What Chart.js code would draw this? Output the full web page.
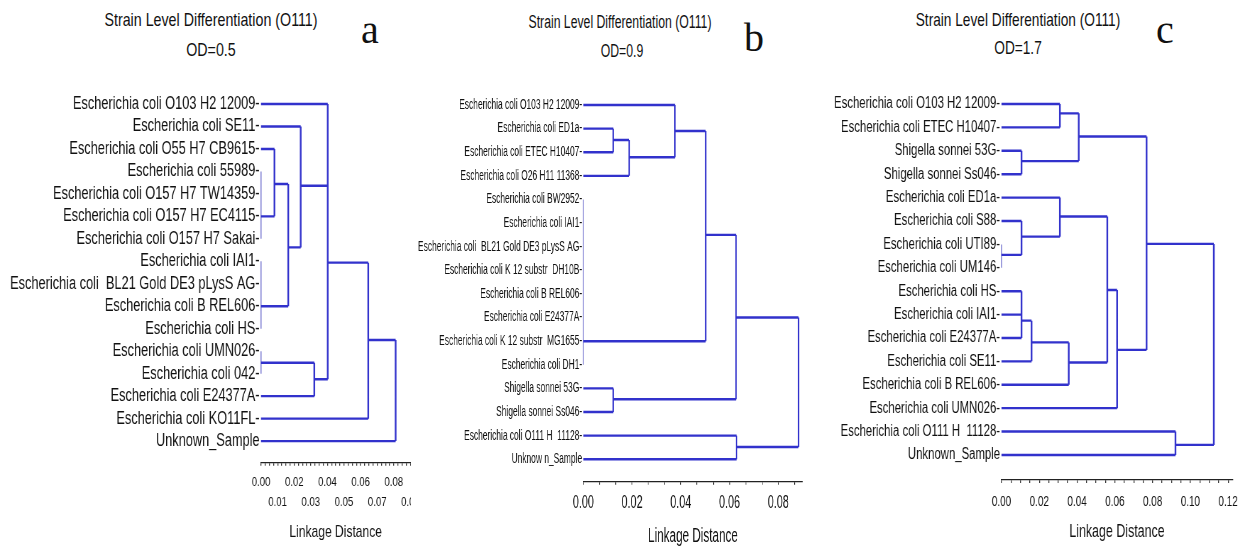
<!DOCTYPE html>
<html><head><meta charset="utf-8">
<script src="https://cdn.jsdelivr.net/npm/chart.js@4.4.0/dist/chart.umd.min.js"></script>
<style>
html,body{margin:0;padding:0;background:#fff;}
body{width:1250px;height:546px;position:relative;overflow:hidden;font-family:'Liberation Sans',Arial,sans-serif;color:#111;}
.wrap{position:absolute;top:0;height:546px;overflow:hidden;}
.wrap canvas{position:absolute;left:0;top:0;}
.t{position:absolute;white-space:nowrap;line-height:1;}
.L{position:absolute;font-family:'Liberation Serif','DejaVu Serif',serif;transform:translate(-50%,-50%);line-height:1;color:#111;}
</style></head><body>

<div class="t" style="left:211px;top:19px;font-size:19px;transform:translate(-50%,-50%) scaleX(0.75);">Strain Level Differentiation (O111)</div>
<div class="t" style="left:211px;top:49px;font-size:19px;transform:translate(-50%,-50%) scaleX(0.75);">OD=0.5</div>
<div class="L" style="left:370px;top:30px;font-size:40px;">a</div>

<div class="t" style="left:620px;top:22px;font-size:18px;transform:translate(-50%,-50%) scaleX(0.68);">Strain Level Differentiation (O111)</div>
<div class="t" style="left:622px;top:51px;font-size:18px;transform:translate(-50%,-50%) scaleX(0.68);">OD=0.9</div>
<div class="L" style="left:754px;top:38px;font-size:40px;">b</div>

<div class="t" style="left:1018px;top:19px;font-size:19px;transform:translate(-50%,-50%) scaleX(0.72);">Strain Level Differentiation (O111)</div>
<div class="t" style="left:1018px;top:47px;font-size:19px;transform:translate(-50%,-50%) scaleX(0.72);">OD=1.7</div>
<div class="L" style="left:1165px;top:30px;font-size:40px;">c</div>

<div class="wrap" style="left:0px;width:411px;"><canvas id="ca"></canvas></div>
<div class="wrap" style="left:410px;width:410px;"><canvas id="cb"></canvas></div>
<div class="wrap" style="left:790px;width:460px;"><canvas id="cc"></canvas></div>

<script>
// ---------- Panel a (OD=0.5) ----------
const aLeaves = [
  "Escherichia coli O103 H2 12009-",
  "Escherichia coli SE11-",
  "Escherichia coli O55 H7 CB9615-",
  "Escherichia coli 55989-",
  "Escherichia coli O157 H7 TW14359-",
  "Escherichia coli O157 H7 EC4115-",
  "Escherichia coli O157 H7 Sakai-",
  "Escherichia coli IAI1-",
  "Escherichia coli  BL21 Gold DE3 pLysS AG-",
  "Escherichia coli B REL606-",
  "Escherichia coli HS-",
  "Escherichia coli UMN026-",
  "Escherichia coli 042-",
  "Escherichia coli E24377A-",
  "Escherichia coli KO11FL-",
  "Unknown_Sample"
];
// cluster merge distances, the leaf-row position where each cluster's stem leaves, and members
const aHeights  = [0,      0.0081, 0,          0.0164,     0.0239,     0,       0.0321,     0.0402,          0.0646,     0.0811];
const aAttach   = [5,      3.56,   9,          6.38,       3.64,       11.51,   12.25,      7.06,            10.5,       10.5];
const aChildren = [[3,4,5,6], [2,"n0"], [7,8,9,10], ["n1","n2"], [1,"n3"], [11,12], ["n5",13], [0,"n4","n6"], ["n7",14], ["n8",15]];
const aTickLabels = ["0.00","0.01","0.02","0.03","0.04","0.05","0.06","0.07","0.08","0.09"];

// ---------- Panel b (OD=0.9) ----------
const bLeaves = [
  "Escherichia coli O103 H2 12009-",
  "Escherichia coli ED1a-",
  "Escherichia coli ETEC H10407-",
  "Escherichia coli O26 H11 11368-",
  "Escherichia coli BW2952-",
  "Escherichia coli IAI1-",
  "Escherichia coli  BL21 Gold DE3 pLysS AG-",
  "Escherichia coli K 12 substr  DH10B-",
  "Escherichia coli B REL606-",
  "Escherichia coli E24377A-",
  "Escherichia coli K 12 substr  MG1655-",
  "Escherichia coli DH1-",
  "Shigella sonnei 53G-",
  "Shigella sonnei Ss046-",
  "Escherichia coli O111 H  11128-",
  "Unknow n_Sample"
];
const bHeights  = [0.0123, 0.0188,    0.0376,    0,                      0.0502,      0.0123,  0.0627,      0.0629,  0.0883];
const bAttach   = [1.48,   2.21,      1.10,      10,                     5.50,        12.46,   9.0,         14.48,   9.0];
const bChildren = [[1,2],  ["n0",3],  [0,"n1"],  [4,5,6,7,8,9,10,11],    ["n2","n3"], [12,13], ["n4","n5"], [14,15], ["n6","n7"]];
const bTickLabels = ["0.00","0.02","0.04","0.06","0.08"];

// ---------- Panel c (OD=1.7) ----------
const cLeaves = [
  "Escherichia coli O103 H2 12009-",
  "Escherichia coli ETEC H10407-",
  "Shigella sonnei 53G-",
  "Shigella sonnei Ss046-",
  "Escherichia coli ED1a-",
  "Escherichia coli S88-",
  "Escherichia coli UTI89-",
  "Escherichia coli UM146-",
  "Escherichia coli HS-",
  "Escherichia coli IAI1-",
  "Escherichia coli E24377A-",
  "Escherichia coli SE11-",
  "Escherichia coli B REL606-",
  "Escherichia coli UMN026-",
  "Escherichia coli O111 H  11128-",
  "Unknown_Sample"
];
const cHeights  = [0.0309, 0.0106, 0.0409,    0,     0.0106,  0.0309,  0.0106,  0.0159,   0.0356,   0.0560,      0.0612,   0.0768,       0.0921,  0.1124];
const cAttach   = [0.40,   2.44,   1.39,      6.45,  5.67,    4.81,    9.26,    10.19,    11.05,    7.95,        10.51,    5.98,         14.57,   10.0];
const cChildren = [[0,1],  [2,3],  ["n0","n1"],[6,7], [5,"n3"],[4,"n4"],[8,9,10],["n6",11],["n7",12],["n5","n8"], ["n9",13],["n2","n10"], [14,15], ["n11","n12"]];
const cTickLabels = ["0.00","0.02","0.04","0.06","0.08","0.10","0.12"];

// ---------- drawing helpers ----------
const FONT = "'Liberation Sans', Arial, sans-serif";
const LINE = "#3232cc";
const TIE  = "#8e8ed8";
const H = 546;

function buildSegments(heights, attach, children) {
  const main = [], tie = [];
  const pos = c => typeof c === "number" ? {h: 0, y: c} : {h: heights[+c.slice(1)], y: attach[+c.slice(1)]};
  heights.forEach((h, k) => {
    const ys = children[k].map(c => pos(c).y);
    const y0 = Math.min(...ys), y1 = Math.max(...ys);
    (h === 0 ? tie : main).push({x: h, y: y0}, {x: h, y: y1}, {x: null, y: null});
    children[k].forEach(c => {
      const p = pos(c);
      if (h > p.h) main.push({x: p.h, y: p.y}, {x: h, y: p.y}, {x: null, y: null});
    });
  });
  return {main, tie};
}

function tickValues(labels, sub, max) {
  const step = (parseFloat(labels[1]) - parseFloat(labels[0])) / sub;
  const vals = [];
  for (let i = 0; i * step <= max + 1e-9; i++) vals.push(+(i * step).toFixed(6));
  return vals;
}

// g: page geometry (px) + fonts; s: horizontal compression of the panel's drawing
function makePanel(id, g, leaves, heights, attach, children, tickLabels, sub, stagger) {
  const cv = document.getElementById(id);
  const Wi = Math.round(g.w / g.s);
  const s = g.w / Wi;
  cv.width = Wi; cv.height = H;
  cv.style.width = g.w + "px"; cv.style.height = H + "px";
  const seg = buildSegments(heights, attach, children);
  const vals = tickValues(tickLabels, sub, g.max);
  const majors = tickLabels.map(parseFloat);
  new Chart(cv, {
    type: "scatter",
    data: {
      datasets: [
        {data: seg.main, showLine: true, borderColor: LINE, borderWidth: 2.4, pointRadius: 0, pointHoverRadius: 0, spanGaps: false, clip: false},
        {data: seg.tie,  showLine: true, borderColor: TIE,  borderWidth: 1.7, pointRadius: 0, pointHoverRadius: 0, spanGaps: false, clip: false}
      ]
    },
    options: {
      responsive: false, animation: false, devicePixelRatio: 1, events: [],
      layout: {padding: {left: 0, top: g.top, right: Wi - (g.right - g.x) / s, bottom: 0}},
      plugins: {legend: {display: false}, tooltip: {enabled: false}, title: {display: false}},
      scales: {
        x: {
          type: "linear", min: 0, max: g.max,
          afterBuildTicks: sc => { sc.ticks = vals.map(v => ({value: v})); },
          afterFit: sc => { sc.height = H - g.bottom; sc.paddingLeft = 0; sc.paddingRight = 0; },
          border: {display: true, color: "#222", width: 1.2},
          grid: {display: true, drawOnChartArea: false, drawTicks: true, tickLength: 3, color: "#333", lineWidth: 1.3},
          ticks: {
            autoSkip: false, maxRotation: 0, minRotation: 0, padding: g.tickPad, color: "#111",
            font: {family: FONT, size: g.tickSize, lineHeight: g.tickLH},
            callback: v => {
              const j = majors.findIndex(m => Math.abs(m - v) < 1e-6);
              if (j < 0) return "";
              if (!stagger) return tickLabels[j];
              return j % 2 === 0 ? [tickLabels[j], ""] : ["", tickLabels[j]];
            }
          },
          title: {display: true, text: "Linkage Distance", color: "#111", font: {family: FONT, size: g.titleSize, lineHeight: 1}, padding: {top: 0, bottom: g.titlePad}}
        },
        y: {
          type: "linear", reverse: true, min: -1, max: g.ymax,
          afterBuildTicks: sc => { sc.ticks = leaves.map((_, i) => ({value: i})); },
          afterFit: sc => { sc.width = (g.left - g.x) / s; sc.paddingTop = 0; sc.paddingBottom = 0; },
          border: {display: false},
          grid: {display: false, drawTicks: false},
          ticks: {
            autoSkip: false, padding: 2, color: "#111",
            font: {family: FONT, size: g.labelSize},
            callback: v => leaves[v]
          }
        }
      }
    }
  });
}

makePanel("ca", {x: 0,   w: 440, s: 0.71, left: 261,    right: 410.4,  top: 81.5, bottom: 462.7, max: 0.09,   ymax: 15.96,
                 labelSize: 18, tickSize: 13.5, tickLH: 20/13.5, tickPad: 7, titleSize: 17, titlePad: 5.5},
          aLeaves, aHeights, aAttach, aChildren, aTickLabels, 4, true);
makePanel("cb", {x: 410, w: 410, s: 0.60, left: 583.3,  right: 802.6,  top: 81.4, bottom: 481.7, max: 0.09,   ymax: 15.95,
                 labelSize: 14, tickSize: 18, tickLH: 1.2, tickPad: 7.8, titleSize: 19.5, titlePad: 0},
          bLeaves, bHeights, bAttach, bChildren, bTickLabels, 3, false);
makePanel("cc", {x: 790, w: 460, s: 0.71, left: 1001.5, right: 1232.5, top: 80.6, bottom: 480,   max: 0.1223, ymax: 16.07,
                 labelSize: 16, tickSize: 14, tickLH: 1.2, tickPad: 10.3, titleSize: 17.5, titlePad: 5.5},
          cLeaves, cHeights, cAttach, cChildren, cTickLabels, 4, false);
</script>
</body></html>
